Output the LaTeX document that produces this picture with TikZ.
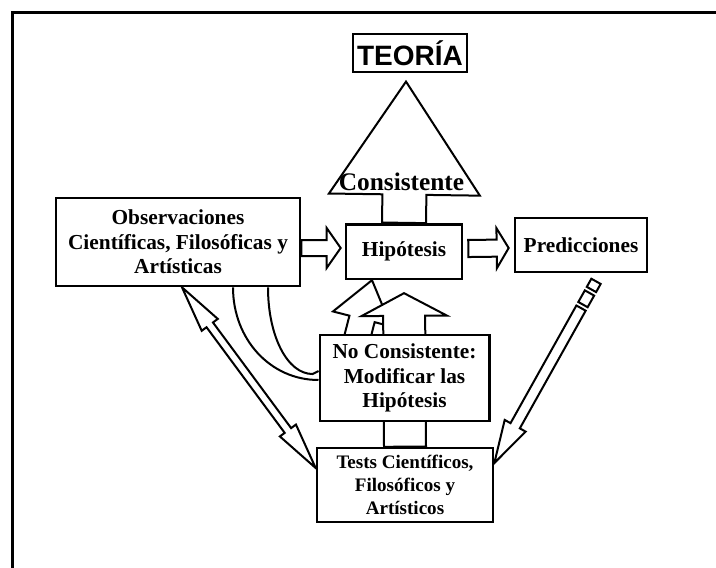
\documentclass[tikz,border=0pt]{standalone}
\usepackage{fontspec}
\setmainfont{Liberation Serif}
\newfontfamily\headfont{Liberation Sans}
\usetikzlibrary{calc,backgrounds}

\tikzset{
  mainbox/.style={draw, line width=2pt, fill=white, align=center, inner sep=1pt,
    font=\bfseries\fontsize{16}{18.5}\selectfont},
  testbox/.style={mainbox, font=\bfseries\fontsize{14.3}{17}\selectfont},
  theorybox/.style={draw, line width=1.4pt, fill=white, inner sep=1pt,
    font=\headfont\bfseries\fontsize{21}{24}\selectfont},
  blockarrow/.style={draw, line width=1.5pt, fill=white, line join=miter},
  bendline/.style={draw, line width=1.5pt},
}

% block arrow: from, to, stem half width, head half width, head length
\newcommand\fatarrow[5]{%
  \draw[blockarrow] let \p1=(#1), \p2=(#2),
    \n1={veclen(\x2-\x1,\y2-\y1)}, \n2={(\x2-\x1)/\n1}, \n3={(\y2-\y1)/\n1} in
    ({\x1-#3*(\n3)},{\y1+#3*(\n2)})
    -- ({\x2-#5*(\n2)-#3*(\n3)},{\y2-#5*(\n3)+#3*(\n2)})
    -- ({\x2-#5*(\n2)-#4*(\n3)},{\y2-#5*(\n3)+#4*(\n2)})
    -- (\p2)
    -- ({\x2-#5*(\n2)+#4*(\n3)},{\y2-#5*(\n3)-#4*(\n2)})
    -- ({\x2-#5*(\n2)+#3*(\n3)},{\y2-#5*(\n3)-#3*(\n2)})
    -- ({\x1+#3*(\n3)},{\y1-#3*(\n2)}) -- cycle;}

% same, with a head at both ends
\newcommand\fatdarrow[5]{%
  \draw[blockarrow] let \p1=(#1), \p2=(#2),
    \n1={veclen(\x2-\x1,\y2-\y1)}, \n2={(\x2-\x1)/\n1}, \n3={(\y2-\y1)/\n1} in
    (\p1)
    -- ({\x1+#5*(\n2)-#4*(\n3)},{\y1+#5*(\n3)+#4*(\n2)})
    -- ({\x1+#5*(\n2)-#3*(\n3)},{\y1+#5*(\n3)+#3*(\n2)})
    -- ({\x2-#5*(\n2)-#3*(\n3)},{\y2-#5*(\n3)+#3*(\n2)})
    -- ({\x2-#5*(\n2)-#4*(\n3)},{\y2-#5*(\n3)+#4*(\n2)})
    -- (\p2)
    -- ({\x2-#5*(\n2)+#4*(\n3)},{\y2-#5*(\n3)-#4*(\n2)})
    -- ({\x2-#5*(\n2)+#3*(\n3)},{\y2-#5*(\n3)-#3*(\n2)})
    -- ({\x1+#5*(\n2)+#3*(\n3)},{\y1+#5*(\n3)-#3*(\n2)})
    -- ({\x1+#5*(\n2)+#4*(\n3)},{\y1+#5*(\n3)-#4*(\n2)}) -- cycle;}

\begin{document}
\begin{tikzpicture}[x=0.75pt,y=-0.75pt]
  \useasboundingbox (0,0) rectangle (716,567);
  \clip (0,0) rectangle (716,567);
  \draw[line width=2.2pt] (12.5,620) |- (760,12.5);

  \node[theorybox, minimum width=85.5pt, minimum height=28pt] (teoria) at (410,53) {TEORÍA};
  \node[mainbox, minimum width=183pt, minimum height=66pt] (obs) at (178,242)
    {Observaciones\\Científicas, Filosóficas y\\Artísticas};
  \node[mainbox, minimum width=87pt, minimum height=41pt] (hip) at (404,251.5) {Hipótesis};
  \node[mainbox, minimum width=99pt, minimum height=40.5pt] (pred) at (581,245) {Predicciones};
  \node[mainbox, minimum width=127pt, minimum height=64.5pt] (nocons) at (404.5,378)
    {No Consistente:\\Modificar las\\Hipótesis};
  \node[testbox, minimum width=132pt, minimum height=55.5pt] (tests) at (405,485)
    {Tests Científicos,\\Filosóficos y\\Artísticos};

  % end points of the block arrows
  \coordinate (tteo) at ($(teoria.south)+(-4,9)$);
  \coordinate (obsout) at ($(obs.east)+(0,6)$);
  \coordinate (hipin) at ($(hip.west)+(-4,-3.5)$);
  \coordinate (hipout) at ($(hip.east)+(5,-3)$);
  \coordinate (predin) at ($(pred.west)+(-5,3)$);
  \coordinate (hipbot) at ($(hip.south)+(0,13)$);
  \coordinate (hipleft) at ($(hip.south)+(-32,0)$);
  \coordinate (nctail) at ($(nocons.center)+(-52,-22)$);
  \coordinate (obsbot) at ($(obs.south)+(4,0)$);
  \coordinate (testsin) at ($(tests.west)+(0,-17)$);
  \coordinate (ptail) at ($(pred.south)+(15,8)$);
  \coordinate (ptip) at ($(tests.east)+(0,-22)$);

  \begin{scope}[on background layer]
    \fatarrow{hip.north}{tteo}{16.5pt}{56.6pt}{84.75pt}
    \fatarrow{obsout}{hipin}{6pt}{15pt}{10.5pt}
    \fatarrow{hipout}{predin}{6.4pt}{15pt}{9pt}
    \fatarrow{nctail}{hipleft}{9.75pt}{22.5pt}{30pt}
    \fatarrow{tests.north}{hipbot}{15.75pt}{32pt}{17pt}
    \fatdarrow{obsbot}{testsin}{3pt}{7.5pt}{35pt}
    % striped tail
    \fatarrow{ptail}{$(ptail)!7pt!(ptip)$}{4pt}{4pt}{0pt}
    \fatarrow{$(ptail)!10pt!(ptip)$}{$(ptail)!20pt!(ptip)$}{4pt}{4pt}{0pt}
    \fatarrow{$(ptail)!23pt!(ptip)$}{ptip}{4pt}{9pt}{32pt}
  \end{scope}

  \node[font=\bfseries\fontsize{19}{20}\selectfont, anchor=base] (cons) at (401.5,190) {Consistente};

  % curved arrow into the box
  \coordinate (c1s) at ($(obs.south)+(55,0)$);
  \coordinate (c1e) at ($(nocons.west)+(0,2)$);
  \coordinate (c2s) at ($(obs.south)+(90,0)$);
  \coordinate (c2e) at ($(nocons.west)+(-6,-4)$);
  \coordinate (c2h) at ($(nocons.west)+(0,-7)$);
  \draw[bendline] (c1s) .. controls ($(c1s)+(0,52)$) and ($(c1e)+(-48,0)$) .. (c1e);
  \draw[bendline] (c2s) .. controls ($(c2s)+(0,49)$) and ($(c2e)+(-25,0)$) .. (c2e) -- (c2h);
\end{tikzpicture}
\end{document}
